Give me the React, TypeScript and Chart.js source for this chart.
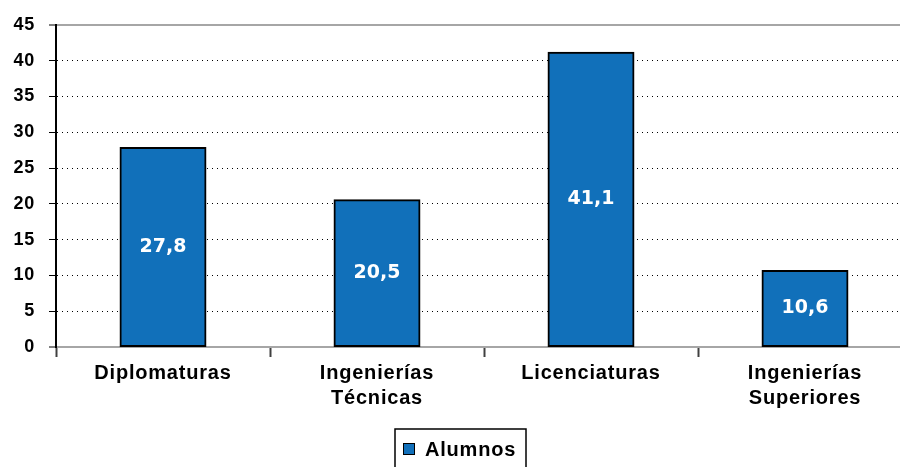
import React, { useEffect, useRef } from 'react';
import { Chart, registerables } from 'chart.js';

Chart.register(...registerables);

// ---- data ----
const categories: (string | string[])[] = [
  'Diplomaturas',
  ['Ingenierías', 'Técnicas'],
  'Licenciaturas',
  ['Ingenierías', 'Superiores'],
];
const alumnos: number[] = [27.8, 20.5, 41.1, 10.6];
const seriesName = 'Alumnos';
const yMin = 0;
const yMax = 45;
const yStep = 5;

// ---- styles ----
const BAR = '#1170BA';
const AXIS_GRAY = '#a6a6a6';
const FONT = '"Liberation Sans", Arial, sans-serif';
const LABEL_FONT = '"DejaVu Sans", Verdana, sans-serif';
const CANVAS_W = 912;
const CANVAS_H = 467;
const SPACING = '0.8px';

const isEdge = (c: any) => !!c.tick && (c.tick.value === yMin || c.tick.value === yMax);

const spacingPlugin = {
  id: 'spacing',
  beforeUpdate(chart: any) {
    chart.ctx.letterSpacing = SPACING;
  },
  beforeDraw(chart: any) {
    chart.ctx.letterSpacing = SPACING;
  },
};

const valueLabelPlugin = {
  id: 'valueLabels',
  afterDatasetsDraw(chart: any) {
    const ctx = chart.ctx;
    const meta = chart.getDatasetMeta(0);
    const data = chart.data.datasets[0].data as number[];
    ctx.save();
    ctx.letterSpacing = '0px';
    ctx.font = `bold 19px ${LABEL_FONT}`;
    ctx.fillStyle = '#ffffff';
    ctx.textAlign = 'center';
    ctx.textBaseline = 'middle';
    meta.data.forEach((bar: any, i: number) => {
      const txt = data[i].toFixed(1).replace('.', ',');
      ctx.fillText(txt, bar.x, (bar.y + bar.base) / 2);
    });
    ctx.restore();
  },
};

const legendPlugin = {
  id: 'boxLegend',
  afterDraw(chart: any) {
    const ctx = chart.ctx;
    ctx.save();
    const boxLeft = 395;
    const boxTop = 429;
    const boxW = 131;
    // frame (bottom edge falls outside the picture)
    ctx.strokeStyle = '#000';
    ctx.lineWidth = 1.5;
    ctx.strokeRect(boxLeft, boxTop, boxW, 50);
    // swatch
    ctx.fillStyle = BAR;
    ctx.fillRect(403, 443, 12, 12);
    ctx.lineWidth = 1;
    ctx.strokeStyle = '#000';
    ctx.strokeRect(403.5, 443.5, 11, 11);
    // text
    ctx.letterSpacing = SPACING;
    ctx.font = `bold 20px ${FONT}`;
    ctx.fillStyle = '#000';
    ctx.textAlign = 'left';
    ctx.textBaseline = 'alphabetic';
    ctx.fillText(seriesName, 425, 456);
    ctx.restore();
  },
};

export default function App() {
  const ref = useRef<HTMLCanvasElement>(null);

  useEffect(() => {
    const canvas = ref.current!;
    const chart = new Chart(canvas, {
      type: 'bar',
      data: {
        labels: categories as any,
        datasets: [
          {
            label: seriesName,
            data: alumnos,
            backgroundColor: BAR,
            borderColor: '#000',
            borderWidth: 2,
            borderSkipped: false,
            inflateAmount: 1,
            barPercentage: 0.397,
            categoryPercentage: 1,
          },
        ],
      },
      options: {
        responsive: false,
        animation: false,
        devicePixelRatio: 1,
        layout: { padding: { top: 22, left: 0, right: 0, bottom: 0 } },
        plugins: {
          legend: { display: false },
          tooltip: { enabled: false },
        },
        scales: {
          x: {
            grid: {
              offset: true,
              drawOnChartArea: false,
              drawTicks: true,
              tickLength: 10,
              tickColor: '#404040',
              tickWidth: 2,
            },
            border: { color: AXIS_GRAY, width: 2 },
            ticks: {
              color: '#000',
              font: { family: FONT, size: 20, weight: 'bold', lineHeight: 1.25 },
              padding: 4,
              maxRotation: 0,
              autoSkip: false,
            },
            afterFit: (s: any) => {
              s.height = 120;
            },
          },
          y: {
            min: yMin,
            max: yMax,
            ticks: {
              stepSize: yStep,
              color: '#000',
              font: { family: FONT, size: 18, weight: 'bold' },
              padding: 14,
            },
            grid: {
              color: (c: any) => (isEdge(c) ? AXIS_GRAY : '#000'),
              lineWidth: (c: any) => (isEdge(c) ? 2 : 1),
              tickColor: '#000',
              tickLength: 7,
              tickWidth: 1,
            },
            border: {
              color: '#000',
              width: 2,
              dash: (c: any) => (c.tick ? (isEdge(c) ? [] : [1, 4]) : []),
            } as any,
            afterFit: (s: any) => {
              s.width = 56;
            },
          },
        },
      } as any,
      plugins: [spacingPlugin, valueLabelPlugin, legendPlugin],
    });
    return () => chart.destroy();
  }, []);

  return (
    <div
      style={{
        position: 'fixed',
        left: 0,
        top: 0,
        width: 900,
        height: 467,
        overflow: 'hidden',
        background: '#fff',
      }}
    >
      <canvas
        ref={ref}
        width={CANVAS_W}
        height={CANVAS_H}
        style={{ display: 'block', width: CANVAS_W, height: CANVAS_H }}
      />
    </div>
  );
}
